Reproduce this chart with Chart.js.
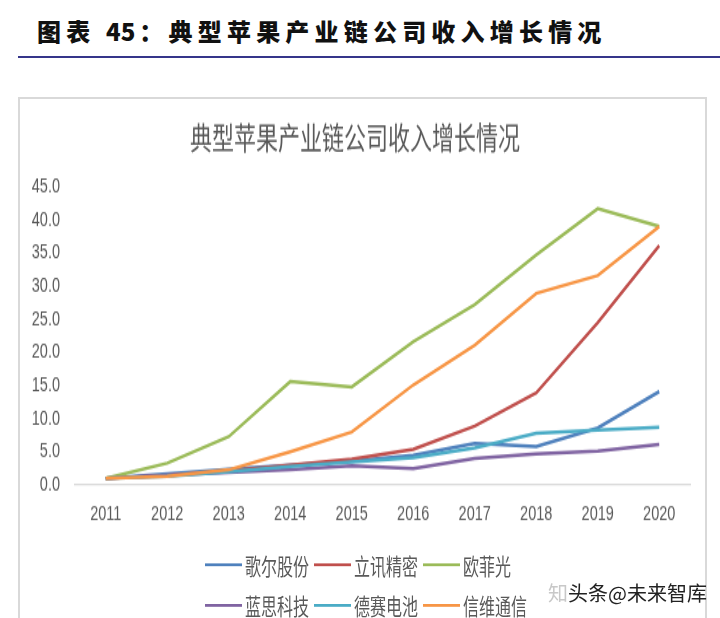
<!DOCTYPE html>
<html>
<head>
<meta charset="utf-8">
<script src="https://cdn.jsdelivr.net/npm/chart.js@4"></script>
<style>
    body { margin: 0; background: #fff; }
    .page { position: relative; width: 720px; height: 618px; overflow: hidden; background: #fff; }
    .heading {
        position: absolute; left: 37px; top: 18px;
        font: 900 24px/26px "Noto Sans CJK SC", sans-serif;
        letter-spacing: 5.2px; color: #111;
    }
    .heading b { letter-spacing: 0; font-weight: 900; margin-right: 4px; }
    .rule { position: absolute; left: 18px; right: 0; top: 56px; height: 2px; background: #35358a; }
    .frame {
        position: absolute; left: 18px; top: 97px; width: 689px; height: 540px;
        border: 2px solid #d9d9d9; box-sizing: border-box;
    }
    /* the chart picture in the report is stretched vertically */
    .stretch {
        position: absolute; left: 20px; top: 100px; width: 688px; height: 370px;
        transform: scaleY(1.4); transform-origin: 0 0;
    }
    .legendRow { position: absolute; left: 185px; height: 16px; display: flex; }
    .legendItem {
        width: 109px; display: flex; align-items: center;
        font: 16px/16px "Noto Sans CJK SC", sans-serif; color: #595959;
    }
    .legendItem i { display: inline-block; width: 37px; height: 2.2px; margin-right: 3px; }
    .mark {
        position: absolute; left: 548px; top: 581px;
        font: 20px/24px "Noto Sans CJK SC", sans-serif; color: #222;
    }
    .mark span { color: #c8c8c8; }
</style>
</head>
<body>
<div class="page">
    <div class="heading">图表 <b>45</b>：典型苹果产业链公司收入增长情况</div>
    <div class="rule"></div>
    <div class="frame"></div>
    <div class="stretch">
        <canvas id="growthChart" width="688" height="311"></canvas>
        <div class="legendRow" id="row1" style="top:324px"></div>
        <div class="legendRow" id="row2" style="top:352.7px"></div>
    </div>
    <div class="mark"><span>知</span>头条@未来智库</div>
</div>
<script>
// Chart data
const chartTitle = '典型苹果产业链公司收入增长情况';
const years = ['2011', '2012', '2013', '2014', '2015', '2016', '2017', '2018', '2019', '2020'];
const companies = ['歌尔股份', '立讯精密', '欧菲光', '蓝思科技', '德赛电池', '信维通信'];
const goertek = [1.0, 1.7, 2.4, 3.0, 3.6, 4.5, 6.3, 5.8, 8.6, 14.1];
const luxshare = [1.0, 1.4, 2.1, 3.0, 3.9, 5.4, 8.9, 13.9, 24.5, 36.1];
const ofilm = [1.0, 3.3, 7.3, 15.6, 14.8, 21.6, 27.2, 34.7, 41.7, 39.0];
const lensTech = [1.0, 1.5, 1.9, 2.3, 2.9, 2.5, 4.0, 4.7, 5.1, 6.1];
const desay = [1.0, 1.3, 2.0, 2.8, 3.5, 4.1, 5.6, 7.8, 8.3, 8.7];
const sunway = [1.0, 1.3, 2.3, 5.0, 8.0, 15.1, 21.1, 28.9, 31.6, 39.0];
const yTicks = [0, 5, 10, 15, 20, 25, 30, 35, 40, 45];

// Excel 2010 palette
const colors = ['#4F81BD', '#C0504D', '#9BBB59', '#8064A2', '#4BACC6', '#F79646'];
const series = [goertek, luxshare, ofilm, lensTech, desay, sunway];

const tickFont = { family: '"Liberation Sans", Arial, sans-serif', size: 14.5 };

// Legend, two rows of three like the original
function buildLegend() {
    companies.forEach((name, i) => {
        const item = document.createElement('div');
        item.className = 'legendItem';
        item.innerHTML = `<i style="background:${colors[i]}"></i>${name}`;
        document.getElementById(i < 3 ? 'row1' : 'row2').appendChild(item);
    });
}

const ctx = document.getElementById('growthChart').getContext('2d');
const chart = new Chart(ctx, {
    type: 'line',
    data: {
        labels: years,
        datasets: companies.map((name, i) => ({
            label: name,
            data: series[i],
            borderColor: colors[i],
            backgroundColor: colors[i],
            borderWidth: 2.5,
            pointRadius: 0,
            tension: 0,
            order: companies.length - i
        }))
    },
    options: {
        responsive: false,
        animation: false,
        layout: { padding: { left: 0, right: 18, top: 0, bottom: 0 } },
        plugins: {
            legend: { display: false },
            tooltip: { enabled: false },
            title: {
                display: true,
                text: chartTitle,
                color: '#595959',
                font: { family: '"Noto Sans CJK SC", sans-serif', size: 22, weight: 'normal', lineHeight: 1.2 },
                padding: { top: 13, bottom: 22.5 }
            }
        },
        scales: {
            x: {
                offset: true,
                grid: { display: false, drawTicks: false },
                border: { color: '#d9d9d9', width: 1.2 },
                ticks: { color: '#595959', font: tickFont, padding: 12, maxRotation: 0 },
                afterFit: scale => { scale.height = 36; }
            },
            y: {
                min: 0,
                max: 45,
                grid: { display: false, drawTicks: false },
                border: { display: false },
                afterBuildTicks: scale => { scale.ticks = yTicks.map(v => ({ value: v })); },
                ticks: {
                    color: '#595959',
                    font: tickFont,
                    padding: 15,
                    callback: value => value.toFixed(1)
                },
                afterFit: scale => { scale.width = 55; }
            }
        }
    }
});

buildLegend();
</script>
</body>
</html>
